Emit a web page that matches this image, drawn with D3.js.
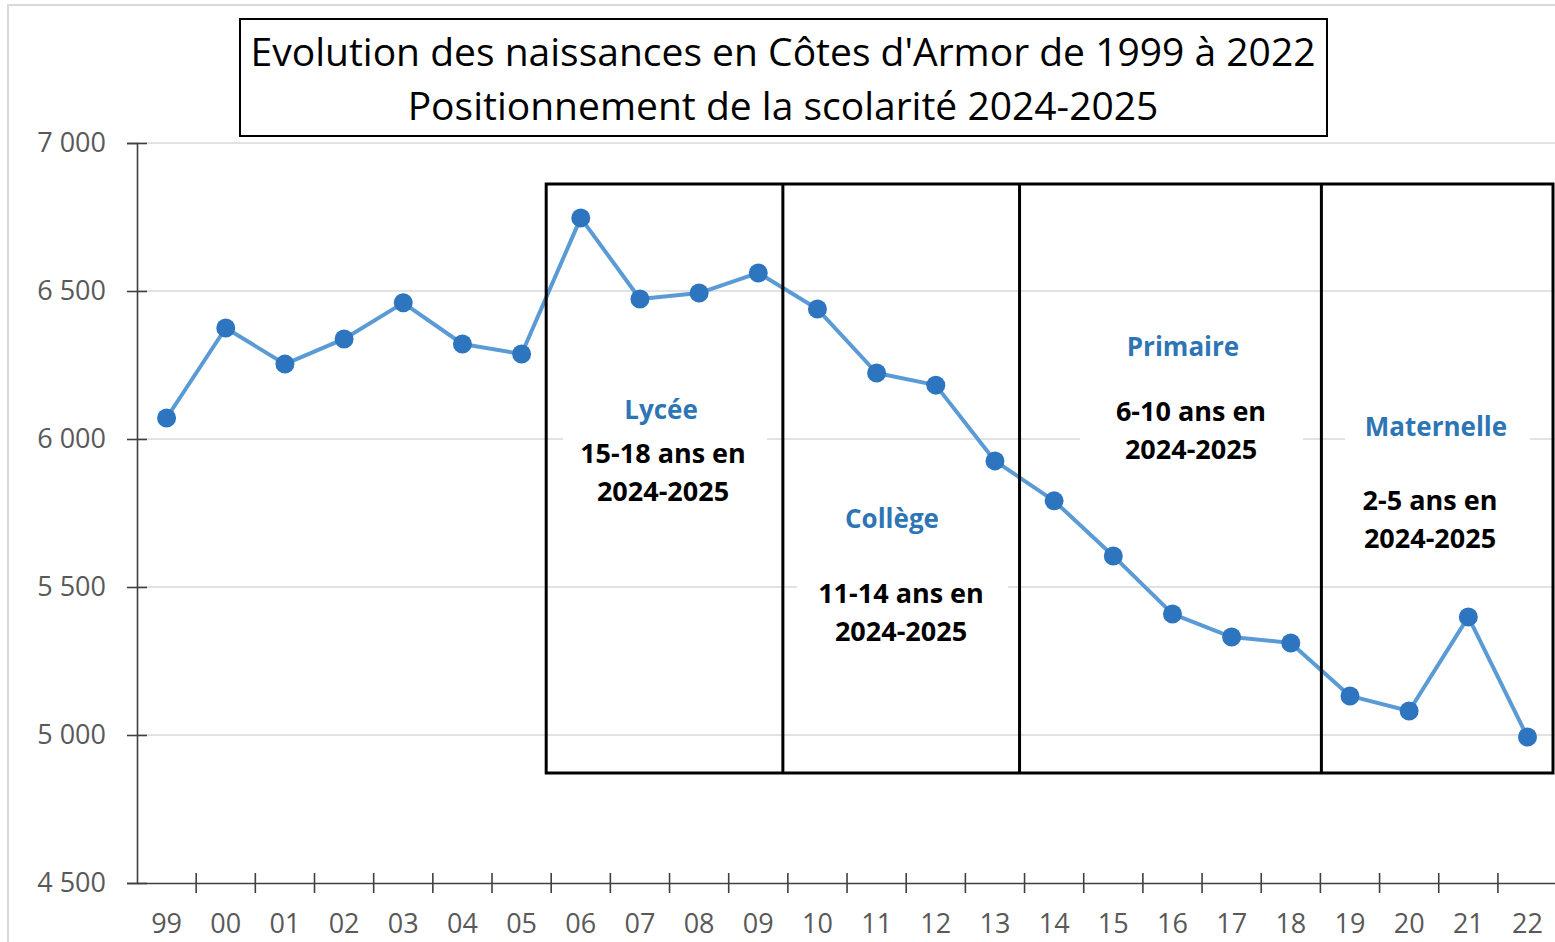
<!DOCTYPE html>
<html>
<head>
<meta charset="utf-8">
<script src="https://cdn.jsdelivr.net/npm/d3@7"></script>
<style>
  body { margin: 0; background: #fff; }
  svg { display: block; }
</style>
</head>
<body>
<div id="chart"></div>
<script>
// Data
const years = ['99','00','01','02','03','04','05','06','07','08','09','10','11','12','13','14','15','16','17','18','19','20','21','22'];
const births = [6071, 6375, 6253, 6338, 6460, 6321, 6287, 6747, 6473, 6493, 6561, 6439, 6223, 6182, 5926, 5791, 5605, 5409, 5331, 5311, 5132, 5081, 5399, 4993];
const yTicks = [4500, 5000, 5500, 6000, 6500, 7000];
const titleLines = ["Evolution des naissances en Côtes d'Armor de 1999 à 2022", 'Positionnement de la scolarité 2024-2025'];
const phaseStart = ['06', '10', '14', '19'];
const phaseNames = ['Lycée', 'Collège', 'Primaire', 'Maternelle'];
const phaseAges = ['15-18 ans en', '11-14 ans en', '6-10 ans en', '2-5 ans en'];
const schoolYear = '2024-2025';

const W = 1555, H = 942;
const plot = {left: 137, right: 137 + 24 * 59.17, top: 143, bottom: 883};

const svg = d3.select('#chart').append('svg')
    .attr('width', W)
    .attr('height', H)
    .style('font-family', '"Open Sans", sans-serif');

// outer chart border
svg.append('rect')
    .attr('x', 8).attr('y', 5)
    .attr('width', W).attr('height', H)
    .attr('fill', 'none')
    .attr('stroke', '#d9d9d9')
    .attr('stroke-width', 2);

const x = d3.scaleBand()
    .domain(years)
    .range([plot.left, plot.right])
    .padding(0);

const y = d3.scaleLinear()
    .domain([4500, 7000])
    .range([plot.bottom, plot.top]);

const cx = d => x(d) + x.bandwidth() / 2;

// gridlines
svg.append('g')
    .selectAll('line')
    .data(yTicks.filter(t => t > 4500))
    .enter()
    .append('line')
    .attr('x1', plot.left)
    .attr('x2', W)
    .attr('y1', d => y(d))
    .attr('y2', d => y(d))
    .attr('stroke', '#d9d9d9')
    .attr('stroke-width', 1.3);

// Y axis
const yAxis = svg.append('g')
    .attr('transform', `translate(${plot.left},0)`)
    .call(d3.axisLeft(y).tickValues(yTicks).tickSize(10).tickPadding(21)
        .tickFormat(d => d3.format(',')(d).replace(',', ' ')));
yAxis.select('.domain').attr('stroke', '#404040').attr('stroke-width', 1.6);
yAxis.selectAll('.tick line').attr('x1', 10).attr('stroke', '#404040').attr('stroke-width', 1.6);
yAxis.selectAll('.tick text')
    .attr('fill', '#595959')
    .style('font-size', '27px')
    .style('font-family', '"Open Sans", sans-serif');

// X axis
const xAxis = svg.append('g')
    .attr('transform', `translate(0,${plot.bottom})`)
    .call(d3.axisBottom(x).tickSize(0).tickPadding(31));
xAxis.select('.domain').attr('stroke', '#404040').attr('stroke-width', 1.6);
xAxis.selectAll('.tick text')
    .attr('fill', '#595959')
    .style('font-size', '27px')
    .style('font-family', '"Open Sans", sans-serif');
xAxis.selectAll('.boundary')
    .data(years.slice(1).concat(['end']))
    .enter()
    .append('line')
    .attr('class', 'boundary')
    .attr('x1', d => d === 'end' ? plot.right : x(d))
    .attr('x2', d => d === 'end' ? plot.right : x(d))
    .attr('y1', -10)
    .attr('y2', 10)
    .attr('stroke', '#404040')
    .attr('stroke-width', 1.6);

// phase blocks (white label backgrounds)
const labelPos = [
    {cx: 663, nameCx: 661, nameY: 410, line1: 454, bg: [563, 767, 390, 510]},
    {cx: 901, nameCx: 892, nameY: 519, line1: 594, bg: [797, 1008, 500, 650]},
    {cx: 1191, nameCx: 1183, nameY: 347, line1: 412, bg: [1080, 1303, 328, 470]},
    {cx: 1430, nameCx: 1436, nameY: 427, line1: 501, bg: [1345, 1530, 405, 560]}
];

svg.append('g')
    .selectAll('rect')
    .data(labelPos)
    .enter()
    .append('rect')
    .attr('x', d => d.bg[0])
    .attr('y', d => d.bg[2])
    .attr('width', d => d.bg[1] - d.bg[0])
    .attr('height', d => d.bg[3] - d.bg[2])
    .attr('fill', '#fff');

// series line
svg.append('path')
    .datum(births)
    .attr('fill', 'none')
    .attr('stroke', '#5b9bd5')
    .attr('stroke-width', 4)
    .attr('stroke-linejoin', 'round')
    .attr('d', d3.line().x((d, i) => cx(years[i])).y(d => y(d)));

svg.append('g')
    .selectAll('circle')
    .data(births)
    .enter()
    .append('circle')
    .attr('cx', (d, i) => cx(years[i]))
    .attr('cy', d => y(d))
    .attr('r', 9.5)
    .attr('fill', '#2e75c0');

// phase boxes
const boxTop = 184, boxBottom = 773, boxRight = 1553;
const edges = phaseStart.map((s, i) => x(s) - (i === 3 ? -1 : 5));
svg.append('rect')
    .attr('x', edges[0])
    .attr('y', boxTop)
    .attr('width', boxRight - edges[0])
    .attr('height', boxBottom - boxTop)
    .attr('fill', 'none')
    .attr('stroke', '#000')
    .attr('stroke-width', 3);
svg.append('g')
    .selectAll('line')
    .data(edges.slice(1))
    .enter()
    .append('line')
    .attr('x1', d => d).attr('x2', d => d)
    .attr('y1', boxTop).attr('y2', boxBottom)
    .attr('stroke', '#000')
    .attr('stroke-width', 3);

// phase labels
const labels = svg.append('g').attr('text-anchor', 'middle').style('font-weight', 'bold');
phaseNames.forEach((name, i) => {
    const p = labelPos[i];
    labels.append('text')
        .attr('x', p.nameCx)
        .attr('y', p.nameY)
        .attr('dy', '0.35em')
        .attr('fill', '#2e75b6')
        .style('font-size', '26px')
        .text(name);
    labels.append('text')
        .attr('x', p.cx)
        .attr('y', p.line1)
        .attr('dy', '0.35em')
        .attr('fill', '#000')
        .style('font-size', '27px')
        .text(phaseAges[i]);
    labels.append('text')
        .attr('x', p.cx)
        .attr('y', p.line1 + 38)
        .attr('dy', '0.35em')
        .attr('fill', '#000')
        .style('font-size', '27px')
        .text(schoolYear);
});

// title box
svg.append('rect')
    .attr('x', 240).attr('y', 19)
    .attr('width', 1087).attr('height', 117)
    .attr('fill', '#fff')
    .attr('stroke', '#000')
    .attr('stroke-width', 2);
svg.append('g')
    .selectAll('text')
    .data(titleLines)
    .enter()
    .append('text')
    .attr('x', 783)
    .attr('y', (d, i) => 52 + i * 54)
    .attr('dy', '0.35em')
    .attr('text-anchor', 'middle')
    .attr('fill', '#000')
    .style('font-size', '39px')
    .text(d => d);
</script>
</body>
</html>
